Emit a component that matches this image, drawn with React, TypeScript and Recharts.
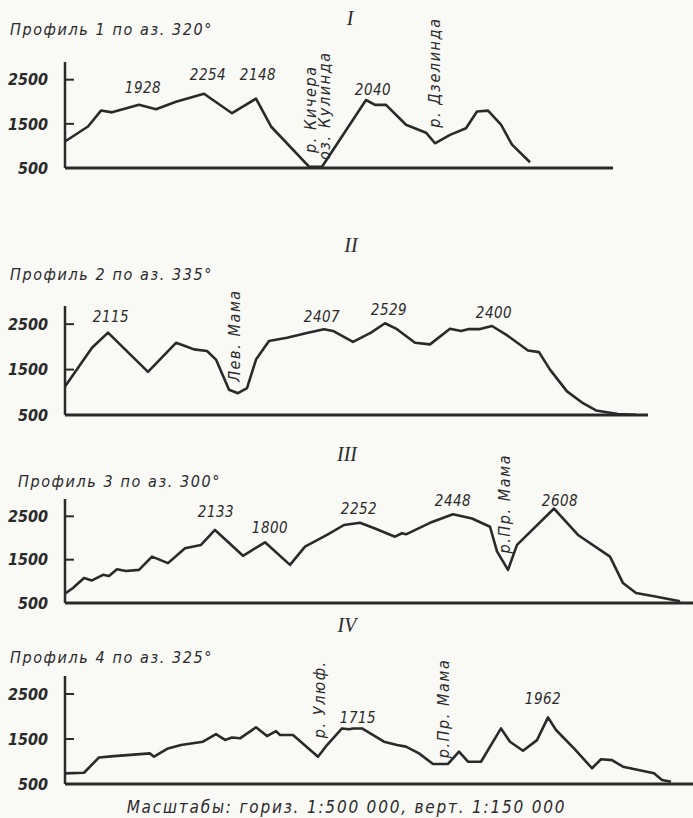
import { LineChart, Line, XAxis, YAxis, ReferenceDot, ReferenceLine } from 'recharts';

// profile I, az. 320
const profile1Dist = [0, 23, 36, 47, 74, 91, 111, 139, 167, 191, 206, 244, 257, 301, 310, 321, 341, 361, 370, 385, 401, 412, 423, 436, 447, 465];
const profile1Elev = [1100, 1440, 1800, 1760, 1930, 1830, 2000, 2180, 1740, 2070, 1440, 530, 530, 2040, 1930, 1930, 1480, 1300, 1060, 1250, 1400, 1780, 1800, 1480, 1030, 630];

// profile II, az. 335
const profile2Dist = [0, 27, 43, 83, 111, 120, 129, 142, 151, 164, 173, 182, 191, 204, 222, 244, 259, 268, 288, 306, 320, 332, 350, 365, 385, 396, 403, 414, 427, 443, 463, 474, 485, 502, 518, 531, 553, 571];
const profile2Elev = [1130, 1980, 2315, 1450, 2090, 2020, 1945, 1910, 1720, 1055, 980, 1090, 1720, 2130, 2200, 2315, 2390, 2350, 2110, 2315, 2520, 2390, 2090, 2055, 2400, 2350, 2390, 2390, 2460, 2240, 1920, 1885, 1500, 1020, 760, 600, 520, 505];

// profile III, az. 300
const profile3Dist = [0, 8, 19, 27, 38, 44, 52, 61, 74, 87, 103, 120, 136, 150, 178, 200, 225, 240, 262, 279, 295, 310, 330, 337, 341, 365, 388, 407, 425, 432, 443, 452, 489, 513, 545, 558, 571, 589, 615];
const profile3Elev = [715, 845, 1075, 1020, 1150, 1125, 1280, 1240, 1265, 1570, 1420, 1765, 1840, 2185, 1590, 1900, 1380, 1800, 2070, 2300, 2350, 2220, 2030, 2110, 2085, 2350, 2550, 2450, 2260, 1690, 1265, 1840, 2680, 2070, 1570, 960, 730, 655, 540];

// profile IV, az. 325
const profile4Dist = [0, 19, 34, 49, 85, 89, 103, 116, 138, 151, 160, 167, 175, 191, 202, 211, 215, 228, 253, 262, 277, 284, 288, 297, 319, 332, 341, 354, 368, 383, 394, 403, 416, 436, 445, 458, 472, 483, 491, 509, 527, 536, 547, 558, 589, 597, 606];
const profile4Elev = [737, 750, 1090, 1120, 1180, 1107, 1290, 1365, 1440, 1610, 1480, 1535, 1515, 1760, 1565, 1675, 1590, 1590, 1107, 1365, 1735, 1715, 1735, 1735, 1440, 1365, 1330, 1180, 945, 945, 1220, 995, 995, 1735, 1440, 1240, 1475, 1980, 1700, 1290, 850, 1050, 1030, 885, 737, 590, 550];

const elevTicks = [500, 1500, 2500];

type Note = { d: number; h: number; text: string; v?: boolean };

const profile1Notes: Note[] = [
  { d: 78, h: 2200, text: '1928' },
  { d: 143, h: 2500, text: '2254' },
  { d: 193, h: 2500, text: '2148' },
  { d: 308, h: 2160, text: '2040' },
  { d: 245, h: 840, text: 'р. Кичера', v: true },
  { d: 259, h: 680, text: 'оз. Кулинда', v: true },
  { d: 369, h: 1410, text: 'р. Дзелинда', v: true },
];
const profile2Notes: Note[] = [
  { d: 46, h: 2550, text: '2115' },
  { d: 169, h: 1230, text: 'Лев. Мама', v: true },
  { d: 257, h: 2550, text: '2407' },
  { d: 324, h: 2700, text: '2529' },
  { d: 429, h: 2625, text: '2400' },
];
const profile3Notes: Note[] = [
  { d: 151, h: 2480, text: '2133' },
  { d: 205, h: 2110, text: '1800' },
  { d: 294, h: 2545, text: '2252' },
  { d: 388, h: 2750, text: '2448' },
  { d: 439, h: 1640, text: 'р.Пр. Мама', v: true },
  { d: 495, h: 2750, text: '2608' },
];
const profile4Notes: Note[] = [
  { d: 254, h: 1515, text: 'р. Улюф.', v: true },
  { d: 293, h: 1850, text: '1715' },
  { d: 378, h: 1070, text: 'р.Пр. Мама', v: true },
  { d: 478, h: 2280, text: '1962' },
];

const FONT = "'DejaVu Sans Condensed', 'Liberation Sans Narrow', 'DejaVu Sans', sans-serif";
const INK = '#2a2a2a';
const AXIS_X = 65;

function ElevTick(props: any) {
  const { y, payload } = props;
  return (
    <g>
      <text x={48} y={y} dy="0.36em" textAnchor="end" fill={INK} fontFamily={FONT} fontStyle="italic" fontWeight="bold" fontSize={16}>
        {payload.value}
      </text>
      {payload.value !== 500 && <line x1={AXIS_X} x2={AXIS_X + 9} y1={y} y2={y} stroke={INK} strokeWidth={2} />}
    </g>
  );
}

function noteShape(n: Note) {
  return (p: any) => {
    if (n.v) {
      return (
        <text x={p.cx} y={p.cy} dy="0.36em" transform={`rotate(-90, ${p.cx}, ${p.cy})`} textAnchor="start"
          fill={INK} fontFamily={FONT} fontStyle="italic" fontSize={16} letterSpacing={1.6}>
          {n.text}
        </text>
      );
    }
    return (
      <text x={p.cx} y={p.cy} textAnchor="middle" fill={INK} fontFamily={FONT} fontStyle="italic" fontSize={15} letterSpacing={0.5}>
        {n.text}
      </text>
    );
  };
}

function Profile(props: {
  top: number; height: number; margin: any; dist: number[]; elev: number[]; xMax: number; notes: Note[];
}) {
  const data = props.dist.map((d, i) => ({ d, h: props.elev[i] }));
  return (
    <div style={{ position: 'absolute', left: 0, top: props.top, width: 693, height: props.height }}>
      <LineChart width={693} height={props.height} data={data} margin={props.margin}>
        <XAxis type="number" dataKey="d" domain={[0, props.xMax]} hide />
        <YAxis type="number" domain={[500, 2900]} ticks={elevTicks} interval={0} width={65} tickLine={false}
          axisLine={{ stroke: INK, strokeWidth: 2.5 }} tick={<ElevTick />} />
        <ReferenceLine y={500} stroke={INK} strokeWidth={3} ifOverflow="visible" />
        <Line type="linear" dataKey="h" stroke={INK} strokeWidth={2.6} strokeLinejoin="round" dot={false} isAnimationActive={false} />
        {props.notes.map((n, i) => (
          <ReferenceDot key={i} x={n.d} y={n.h} r={0} ifOverflow="visible" shape={noteShape(n)} />
        ))}
      </LineChart>
    </div>
  );
}

const textStyle: any = { position: 'absolute', fontFamily: FONT, fontStyle: 'italic', color: INK, lineHeight: 1, whiteSpace: 'nowrap' };
const numStyle: any = { position: 'absolute', fontFamily: "'Liberation Serif', serif", fontStyle: 'italic', color: INK, fontSize: 20, lineHeight: 1, width: 40, textAlign: 'center' };

export default function App() {
  return (
    <div style={{ position: 'absolute', left: 0, top: 0, width: 693, height: 818, background: '#f9f9f6', overflow: 'hidden' }}>
      <Profile top={0} height={200} margin={{ top: 62, right: 80, bottom: 32, left: 0 }} dist={profile1Dist} elev={profile1Elev} xMax={548} notes={profile1Notes} />
      <Profile top={220} height={210} margin={{ top: 86, right: 45, bottom: 15, left: 0 }} dist={profile2Dist} elev={profile2Elev} xMax={583} notes={profile2Notes} />
      <Profile top={440} height={175} margin={{ top: 59, right: 0, bottom: 12, left: 0 }} dist={profile3Dist} elev={profile3Elev} xMax={628} notes={profile3Notes} />
      <Profile top={615} height={180} margin={{ top: 61, right: 0, bottom: 11, left: 0 }} dist={profile4Dist} elev={profile4Elev} xMax={628} notes={profile4Notes} />

      <div style={{ ...numStyle, left: 330, top: 8 }}>I</div>
      <div style={{ ...numStyle, left: 331, top: 235 }}>II</div>
      <div style={{ ...numStyle, left: 327, top: 444 }}>III</div>
      <div style={{ ...numStyle, left: 327, top: 615 }}>IV</div>

      <div style={{ ...textStyle, left: 10, top: 22, fontSize: 16, letterSpacing: 1.6 }}>Профиль 1 по аз. 320°</div>
      <div style={{ ...textStyle, left: 10, top: 267, fontSize: 16, letterSpacing: 1.6 }}>Профиль 2 по аз. 335°</div>
      <div style={{ ...textStyle, left: 18, top: 474, fontSize: 16, letterSpacing: 1.6 }}>Профиль 3 по аз. 300°</div>
      <div style={{ ...textStyle, left: 10, top: 650, fontSize: 16, letterSpacing: 1.6 }}>Профиль 4 по аз. 325°</div>

      <div style={{ ...textStyle, left: 0, width: 693, textAlign: 'center', top: 799, fontSize: 17, letterSpacing: 1.8 }}>
        Масштабы: гориз. 1:500 000, верт. 1:150 000
      </div>
    </div>
  );
}
